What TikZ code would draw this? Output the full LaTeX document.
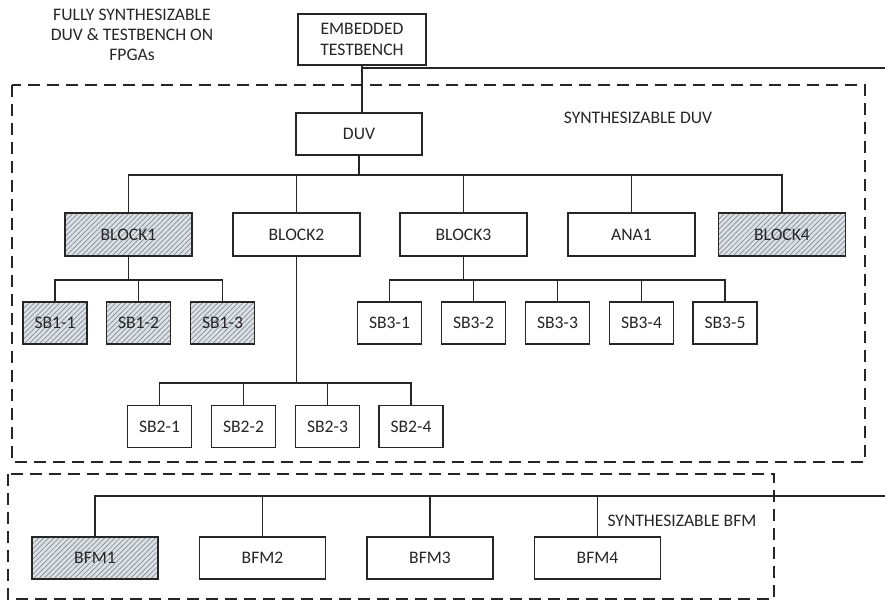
\documentclass[tikz,border=0pt]{standalone}
\usepackage{fontspec}
\setmainfont{Carlito}
\usetikzlibrary{patterns.meta}
\definecolor{ink}{HTML}{262626}
\definecolor{hatchbg}{HTML}{DCE1E6}
\definecolor{hatchln}{HTML}{858C96}
\tikzset{
  blk/.style={draw=ink, line width=1.8pt, minimum width=127pt, minimum height=43pt,
    inner sep=0pt, fill=white, text=ink, font=\fontsize{17.6}{21.5}\selectfont, align=center},
  sbx/.style={blk, minimum width=64pt, minimum height=42pt},
  hatched/.style={preaction={fill=hatchbg},
    pattern={Lines[angle=45,distance=3.6pt,line width=0.7pt]}, pattern color=hatchln},
  conn/.style={draw=ink, line width=1.4pt},
  region/.style={draw=ink, line width=1.8pt, dash pattern=on 12pt off 7pt},
  lbl/.style={text=ink, font=\fontsize{17.6}{20}\selectfont, align=center, inner sep=0pt}
}
\begin{document}
\begin{tikzpicture}[x=1pt,y=-1pt]
\useasboundingbox (0,0) rectangle (885,602);

% dashed regions
\draw[region] (12,85) rectangle (865,462);
\draw[region] (8,474) rectangle (774,599);

% labels
\node[lbl] (title) at (132,35) {FULLY SYNTHESIZABLE\\DUV \& TESTBENCH ON\\FPGAs};
\node[lbl] (lduv) at (638,118) {SYNTHESIZABLE DUV};
\node[lbl] (lbfm) at (682,521) {SYNTHESIZABLE BFM};

% top
\node[blk, minimum width=128pt, minimum height=51pt] (emb) at (362,39.5) {EMBEDDED\\TESTBENCH};
\node[blk, minimum width=126pt, minimum height=42pt] (duv) at (359,134) {DUV};

% blocks
\node[blk, hatched] (b1) at (128.5,234.5) {BLOCK1};
\node[blk] (b2) at (296.5,234.5) {BLOCK2};
\node[blk] (b3) at (463.5,234.5) {BLOCK3};
\node[blk] (ana) at (631.5,234.5) {ANA1};
\node[blk, hatched] (b4) at (782,234.5) {BLOCK4};

% sub blocks 1
\node[sbx, hatched] (s11) at (55,323) {SB1-1};
\node[sbx, hatched] (s12) at (138.5,323) {SB1-2};
\node[sbx, hatched] (s13) at (222.5,323) {SB1-3};

% sub blocks 3
\node[sbx] (s31) at (389.5,323) {SB3-1};
\node[sbx] (s32) at (473.5,323) {SB3-2};
\node[sbx] (s33) at (557.5,323) {SB3-3};
\node[sbx] (s34) at (641.5,323) {SB3-4};
\node[sbx] (s35) at (725,323) {SB3-5};

% sub blocks 2
\node[sbx] (s21) at (159.5,426.5) {SB2-1};
\node[sbx] (s22) at (243.5,426.5) {SB2-2};
\node[sbx] (s23) at (327.5,426.5) {SB2-3};
\node[sbx] (s24) at (411,426.5) {SB2-4};

% BFMs
\node[blk, hatched, minimum width=126pt, minimum height=42pt] (f1) at (95,558) {BFM1};
\node[blk, minimum width=126pt, minimum height=42pt] (f2) at (262.5,558) {BFM2};
\node[blk, minimum width=126pt, minimum height=42pt] (f3) at (430,558) {BFM3};
\node[blk, minimum width=126pt, minimum height=42pt] (f4) at (597.5,558) {BFM4};

% bus coordinates
\coordinate (tbout) at (885,68);
\coordinate (duvbus) at (0,175);
\coordinate (sb1bus) at (0,280);
\coordinate (sb3bus) at (0,280);
\coordinate (sb2bus) at (0,383);
\coordinate (bfmout) at (885,496);

% connectors
\draw[conn] (emb.south) -- (emb.south |- duv.north);
\draw[conn] (emb.south |- tbout) -- (tbout);

\draw[conn] (duv.south) -- (duv.south |- duvbus);
\draw[conn] (b1.north) -- (b1.north |- duvbus) -- (b4.north |- duvbus) -- (b4.north);
\draw[conn] (b2.north) -- (b2.north |- duvbus);
\draw[conn] (b3.north) -- (b3.north |- duvbus);
\draw[conn] (ana.north) -- (ana.north |- duvbus);

\draw[conn] (b1.south) -- (b1.south |- sb1bus);
\draw[conn] (s11.north) -- (s11.north |- sb1bus) -- (s13.north |- sb1bus) -- (s13.north);
\draw[conn] (s12.north) -- (s12.north |- sb1bus);

\draw[conn] (b3.south) -- (b3.south |- sb3bus);
\draw[conn] (s31.north) -- (s31.north |- sb3bus) -- (s35.north |- sb3bus) -- (s35.north);
\draw[conn] (s32.north) -- (s32.north |- sb3bus);
\draw[conn] (s33.north) -- (s33.north |- sb3bus);
\draw[conn] (s34.north) -- (s34.north |- sb3bus);

\draw[conn] (b2.south) -- (b2.south |- sb2bus);
\draw[conn] (s21.north) -- (s21.north |- sb2bus) -- (s24.north |- sb2bus) -- (s24.north);
\draw[conn] (s22.north) -- (s22.north |- sb2bus);
\draw[conn] (s23.north) -- (s23.north |- sb2bus);

\draw[conn] (f1.north) -- (f1.north |- bfmout) -- (bfmout);
\draw[conn] (f2.north) -- (f2.north |- bfmout);
\draw[conn] (f3.north) -- (f3.north |- bfmout);
\draw[conn] (f4.north) -- (f4.north |- bfmout);
\end{tikzpicture}
\end{document}
